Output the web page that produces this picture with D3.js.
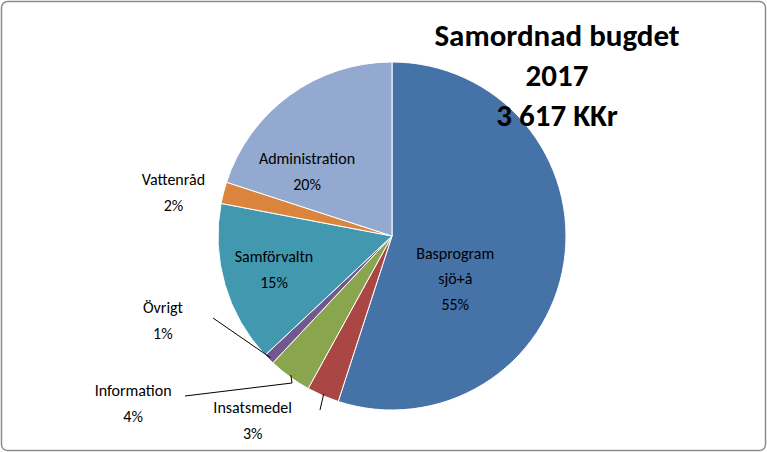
<!DOCTYPE html>
<html><head><meta charset="utf-8">
<script src="https://cdn.jsdelivr.net/npm/d3@7/dist/d3.min.js"></script>
<style>body{margin:0;background:#fff}text{font-family:Carlito,"Liberation Sans",Arial,sans-serif}</style>
</head><body><svg id="c" width="767" height="452"></svg>
<script>
const categories=["Basprogram sjö+å","Insatsmedel","Information","Övrigt","Samförvaltn","Vattenråd","Administration"];
const labelLines=[["Basprogram","sjö+å","55%"],["Insatsmedel","3%"],["Information","4%"],["Övrigt","1%"],["Samförvaltn","15%"],["Vattenråd","2%"],["Administration","20%"]];
const values=[55,3,4,1,15,2,20];
const colors=["#4572A7","#AA4643","#89A54E","#71588F","#4198AF","#DB843D","#93A9CF"];
const titleLines=["Samordnad bugdet","2017","3 617 KKr"];
// label placement: polar (degrees from top clockwise, radius px)
const labelPolar=[[123.7,76],[217.1,231],[237.2,308],[249.9,244],[254.4,122.5],[281.4,223],[307.4,107]];
const leaderEnds=[null,[320,410],[185,396],[213,318],null,null,null];
const leaderElbow=[null,null,[292,383],null,null,null,null];

const svg=d3.select("#c");
svg.append("rect").attr("x",1.5).attr("y",1.5).attr("width",764).attr("height",449).attr("rx",6).attr("fill","#fff").attr("stroke","#8c8c8c").attr("stroke-width",1.5);
const cx=392,cy=236,R=174;
const g=svg.append("g").attr("transform",`translate(${cx},${cy})`);
const pie=d3.pie().sort(null).value(d=>d)(values);
const arc=d3.arc().innerRadius(0).outerRadius(R);
g.selectAll("path").data(pie).join("path").attr("d",arc).attr("fill",(d,i)=>colors[i]).attr("stroke","#fff").attr("stroke-width",1);
const pol=(a,r)=>[r*Math.sin(a*Math.PI/180),-r*Math.cos(a*Math.PI/180)];
pie.forEach((d,i)=>{
  if(leaderEnds[i]){
    const mid=(d.startAngle+d.endAngle)/2*180/Math.PI;
    const p=pol(mid,R-2);
    const pts=[[p[0]+cx,p[1]+cy]];
    if(leaderElbow[i])pts.push(leaderElbow[i]);
    pts.push(leaderEnds[i]);
    svg.append("path").attr("d",d3.line()(pts)).attr("fill","none").attr("stroke","#000").attr("stroke-width",1);
  }
  const [x,y]=pol(labelPolar[i][0],labelPolar[i][1]);
  const lines=labelLines[i];
  const t=g.append("text").attr("text-anchor","middle").attr("font-size",16).attr("fill","#000");
  lines.forEach((l,k)=>t.append("tspan").attr("x",x).attr("y",y+(k-(lines.length-1)/2)*25.5+6).text(l));
});
const tt=svg.append("text").attr("text-anchor","middle").attr("font-size",31).attr("font-weight","bold");
titleLines.forEach((l,k)=>tt.append("tspan").attr("x",557).attr("y",46+k*40).text(l));
</script></body></html>
